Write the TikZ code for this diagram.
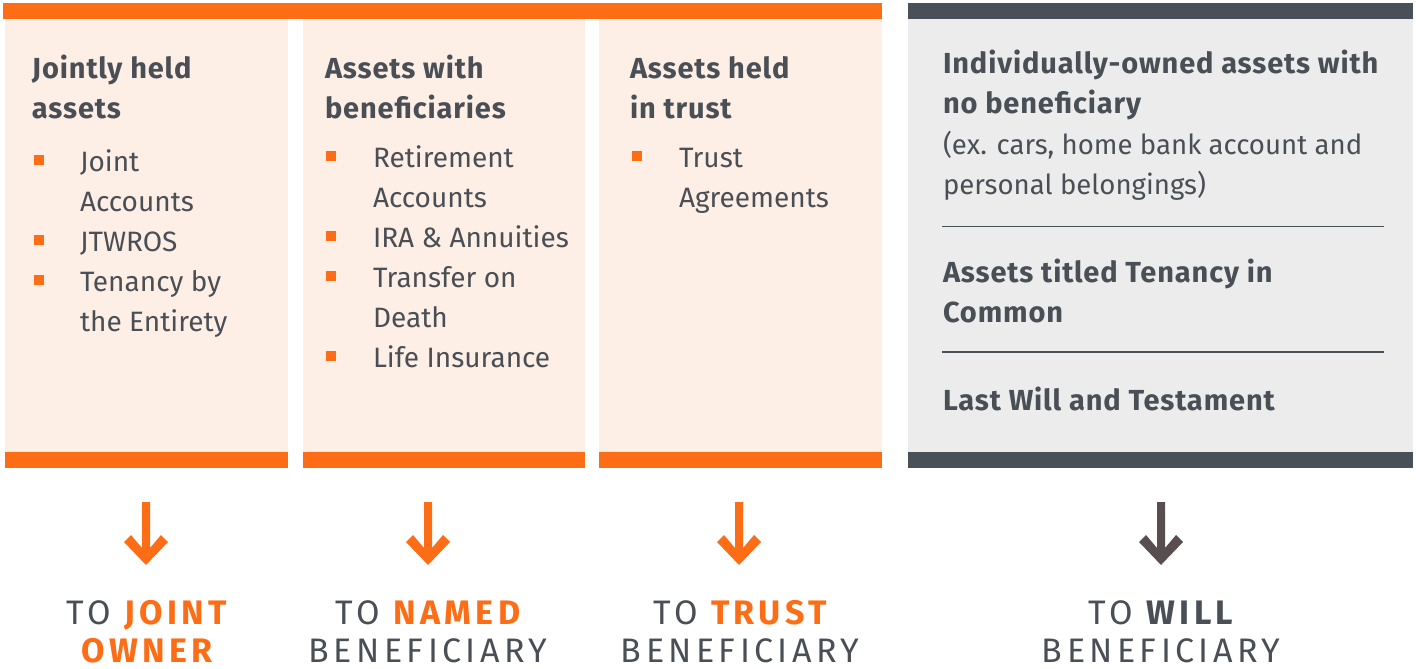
\documentclass[tikz,border=0pt]{standalone}
\usepackage{fontspec}
\setmainfont{Fira Sans}
\newfontfamily\headfont[LetterSpace=3]{Fira Sans}
\newfontfamily\spacedfont[LetterSpace=13]{Fira Sans}
\definecolor{brand}{HTML}{FD6D16}
\definecolor{peach}{HTML}{FDEEE6}
\definecolor{greybg}{HTML}{ECECEC}
\definecolor{darkbar}{HTML}{4A5058}
\definecolor{txt}{HTML}{4A4F55}
\definecolor{arrowdark}{HTML}{594E4F}
\begin{document}
\begin{tikzpicture}[x=0.5pt,y=-0.5pt,
  every node/.style={inner sep=0pt, outer sep=0pt, text=txt},
  head/.style={anchor=base west, font=\headfont\fontsize{14.5}{18}\selectfont\bfseries},
  body/.style={anchor=base west, font=\fontsize{14}{18}\selectfont},
  label/.style={anchor=base, text depth=0pt, font=\spacedfont\fontsize{17}{20}\selectfont},
  bulletsq/.style={fill=brand},
  sepline/.style={draw=darkbar, line width=0.6pt}]
\useasboundingbox (0,0) rectangle (1416,668);
% panels
\fill[brand] (3,3) rectangle (882,19);
\fill[peach] (5,19) rectangle (288,452);
\fill[peach] (303,19) rectangle (585,452);
\fill[peach] (599,19) rectangle (882,452);
\fill[brand] (5,452) rectangle (288,468);
\fill[brand] (303,452) rectangle (585,468);
\fill[brand] (599,452) rectangle (882,468);
\fill[darkbar] (908,3) rectangle (1413,19);
\fill[greybg] (908,19) rectangle (1413,452);
\fill[darkbar] (908,452) rectangle (1413,468);

% panel 1
\node[head] (h1a) at (32,79) {Jointly held};
\node[head] (h1b) at (32,119) {assets};
\fill[bulletsq] (34,155) rectangle (44,165);
\node[body] (p1a) at (80,171.5) {Joint};
\node[body] (p1b) at (80,211.5) {Accounts};
\fill[bulletsq] (34,235) rectangle (44,245);
\node[body] (p1c) at (80,251.5) {JTWROS};
\fill[bulletsq] (34,275) rectangle (44,285);
\node[body] (p1d) at (80,291.5) {Tenancy by};
\node[body] (p1e) at (80,331.5) {the Entirety};

% panel 2
\node[head] (h2a) at (325,79) {Assets with};
\node[head] (h2b) at (325,119) {beneficiaries};
\fill[bulletsq] (326,151) rectangle (336,161);
\node[body] (p2a) at (373,167.5) {Retirement};
\node[body] (p2b) at (373,207.5) {Accounts};
\fill[bulletsq] (326,231) rectangle (336,241);
\node[body] (p2c) at (373,247.5) {IRA \& Annuities};
\fill[bulletsq] (326,271) rectangle (336,281);
\node[body] (p2d) at (373,287.5) {Transfer on};
\node[body] (p2e) at (373,327.5) {Death};
\fill[bulletsq] (326,351) rectangle (336,361);
\node[body] (p2f) at (373,367.5) {Life Insurance};

% panel 3
\node[head] (h3a) at (630,79) {Assets held};
\node[head] (h3b) at (630,119) {in trust};
\fill[bulletsq] (632,151) rectangle (642,161);
\node[body] (p3a) at (679,167.5) {Trust};
\node[body] (p3b) at (679,207.5) {Agreements};

% grey panel
\node[head] (h4a) at (943,74) {Individually-owned assets with};
\node[head] (h4b) at (943,114) {no beneficiary};
\node[body, font=\fontsize{13.8}{18}\selectfont] (p4a) at (943,154.5) {(ex. cars, home bank account and};
\node[body, font=\fontsize{13.8}{18}\selectfont] (p4b) at (943,194.5) {personal belongings)};
\coordinate (s1a) at (942,226.5);
\coordinate (s1b) at (1384,226.5);
\draw[sepline] (s1a) -- (s1b);
\node[head] (h5a) at (943,282) {Assets titled Tenancy in};
\node[head] (h5b) at (943,322) {Common};
\coordinate (s2a) at (942,352);
\coordinate (s2b) at (1384,352);
\draw[sepline] (s2a) -- (s2b);
\node[head] (h6a) at (943,410) {Last Will and Testament};

% arrows
\coordinate (a1) at (146,502);
\coordinate (a2) at (428,502);
\coordinate (a3) at (739,502);
\coordinate (a4) at (1161,502);
\foreach \c/\col in {a1/brand,a2/brand,a3/brand,a4/arrowdark}{
  \fill[\col, shift={(\c)}] (-4,0) -- (4,0) -- (4,46) -- (15,33) -- (22,40) -- (0,63)
     -- (-22,40) -- (-15,33) -- (-4,46) -- cycle;
}

% labels
\node[label] (l1a) at (147,624) {TO \textcolor{brand}{\bfseries JOINT}};
\node[label, text=brand] (l1b) at (147,662) {\bfseries OWNER};
\node[label] (l2a) at (428,624) {TO \textcolor{brand}{\bfseries NAMED}};
\node[label] (l2b) at (428,662) {BENEFICIARY};
\node[label] (l3a) at (740,624) {TO \textcolor{brand}{\bfseries TRUST}};
\node[label] (l3b) at (740,662) {BENEFICIARY};
\node[label] (l4a) at (1161,624) {TO {\bfseries WILL}};
\node[label] (l4b) at (1161,662) {BENEFICIARY};
\end{tikzpicture}
\end{document}
